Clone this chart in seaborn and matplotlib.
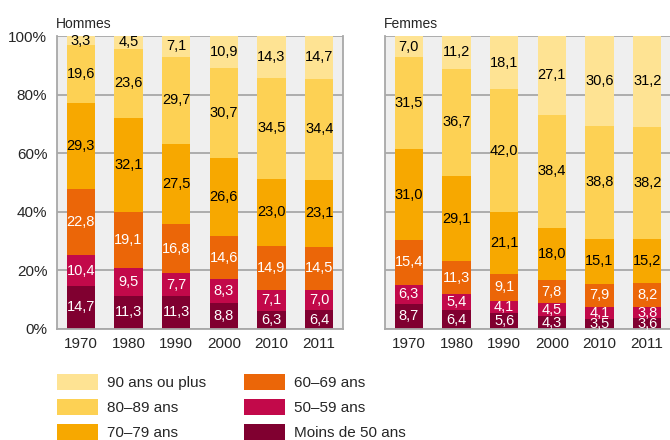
import numpy as np
import pandas as pd
import matplotlib
matplotlib.use("Agg")
import matplotlib.pyplot as plt
import seaborn as sns
from matplotlib.patches import Patch

# ---------------------------------------------------------------------------
# Data (percent per age group, bottom -> top)
# ---------------------------------------------------------------------------
YEARS = ["1970", "1980", "1990", "2000", "2010", "2011"]
AGE_GROUPS = ["Moins de 50 ans", "50–59 ans", "60–69 ans",
              "70–79 ans", "80–89 ans", "90 ans ou plus"]

HOMMES_LT50  = [14.7, 11.3, 11.3, 8.8, 6.3, 6.4]
HOMMES_50_59 = [10.4, 9.5, 7.7, 8.3, 7.1, 7.0]
HOMMES_60_69 = [22.8, 19.1, 16.8, 14.6, 14.9, 14.5]
HOMMES_70_79 = [29.3, 32.1, 27.5, 26.6, 23.0, 23.1]
HOMMES_80_89 = [19.6, 23.6, 29.7, 30.7, 34.5, 34.4]
HOMMES_90P   = [3.3, 4.5, 7.1, 10.9, 14.3, 14.7]

FEMMES_LT50  = [8.7, 6.4, 5.6, 4.3, 3.5, 3.6]
FEMMES_50_59 = [6.3, 5.4, 4.1, 4.5, 4.1, 3.8]
FEMMES_60_69 = [15.4, 11.3, 9.1, 7.8, 7.9, 8.2]
FEMMES_70_79 = [31.0, 29.1, 21.1, 18.0, 15.1, 15.2]
FEMMES_80_89 = [31.5, 36.7, 42.0, 38.4, 38.8, 38.2]
FEMMES_90P   = [7.0, 11.2, 18.1, 27.1, 30.6, 31.2]

Y_TICKS = [0, 20, 40, 60, 80, 100]

COLORS = ["#800030", "#C2094A", "#EB6608", "#F7A800", "#FDD154", "#FEE393"]
TEXT_COLORS = ["white", "white", "white", "black", "black", "black"]
GRID = "#A8A8A8"
BG = "#EFEFEF"


def fmt(v):
    return f"{v:.1f}".replace(".", ",")


def draw_panel(ax, layers, title, show_labels):
    values = np.array(layers)            # shape (6 groups, 6 years)
    tops = values.cumsum(axis=0)
    # overlay cumulative bars, tallest first
    for i in range(len(AGE_GROUPS) - 1, -1, -1):
        sns.barplot(x=YEARS, y=tops[i], color=COLORS[i], saturation=1,
                    width=0.6, linewidth=0, ax=ax, zorder=2)
    for i in range(len(AGE_GROUPS)):
        bottoms = tops[i] - values[i]
        for j, v in enumerate(values[i]):
            ax.text(j, bottoms[j] + v / 2, fmt(v), ha="center", va="center",
                    fontsize=10.5, color=TEXT_COLORS[i], zorder=3)

    ax.set_facecolor(BG)
    ax.set_xlim(-0.5, 5.5)
    ax.set_ylim(0, 100)
    ax.set_yticks(Y_TICKS)
    ax.yaxis.grid(True, color=GRID, linewidth=1.3)
    ax.set_axisbelow(True)
    ax.set_xlabel("")
    ax.set_ylabel("")
    for side in ["left", "right", "bottom"]:
        ax.spines[side].set_color(GRID)
        ax.spines[side].set_linewidth(1.3)
    ax.spines["top"].set_visible(False)
    ax.tick_params(axis="y", length=4, width=1.3, color=GRID, labelsize=11, pad=3)
    ax.tick_params(axis="x", length=0, labelsize=11, pad=6)
    if show_labels:
        ax.set_yticklabels([f"{t}%" for t in Y_TICKS])
    else:
        ax.set_yticklabels([])
    ax.set_title(title, loc="left", fontsize=10, pad=6, x=-0.005)


sns.set_theme(style="white")
plt.rcParams["font.family"] = ["Liberation Sans", "DejaVu Sans"]

fig = plt.figure(figsize=(6.7, 4.4), dpi=100)
ax_h = fig.add_axes([57 / 670, 1 - 329 / 440, 286 / 670, 293 / 440])
ax_f = fig.add_axes([385 / 670, 1 - 329 / 440, 286 / 670, 293 / 440])

draw_panel(ax_h, [HOMMES_LT50, HOMMES_50_59, HOMMES_60_69,
                  HOMMES_70_79, HOMMES_80_89, HOMMES_90P], "Hommes", True)
draw_panel(ax_f, [FEMMES_LT50, FEMMES_50_59, FEMMES_60_69,
                  FEMMES_70_79, FEMMES_80_89, FEMMES_90P], "Femmes", False)

order = [5, 4, 3, 2, 1, 0]
handles = [Patch(facecolor=COLORS[i], edgecolor="none") for i in order]
labels = [AGE_GROUPS[i] for i in order]
fig.legend(handles, labels, ncol=2, loc="upper left",
           bbox_to_anchor=(54 / 670, 1 - 371 / 440), frameon=False,
           fontsize=11, handlelength=2.7, handleheight=1.25,
           handletextpad=0.6, labelspacing=0.58, columnspacing=2.45,
           borderaxespad=0, borderpad=0.2)

fig.savefig("out.png", dpi=100, facecolor="white")
